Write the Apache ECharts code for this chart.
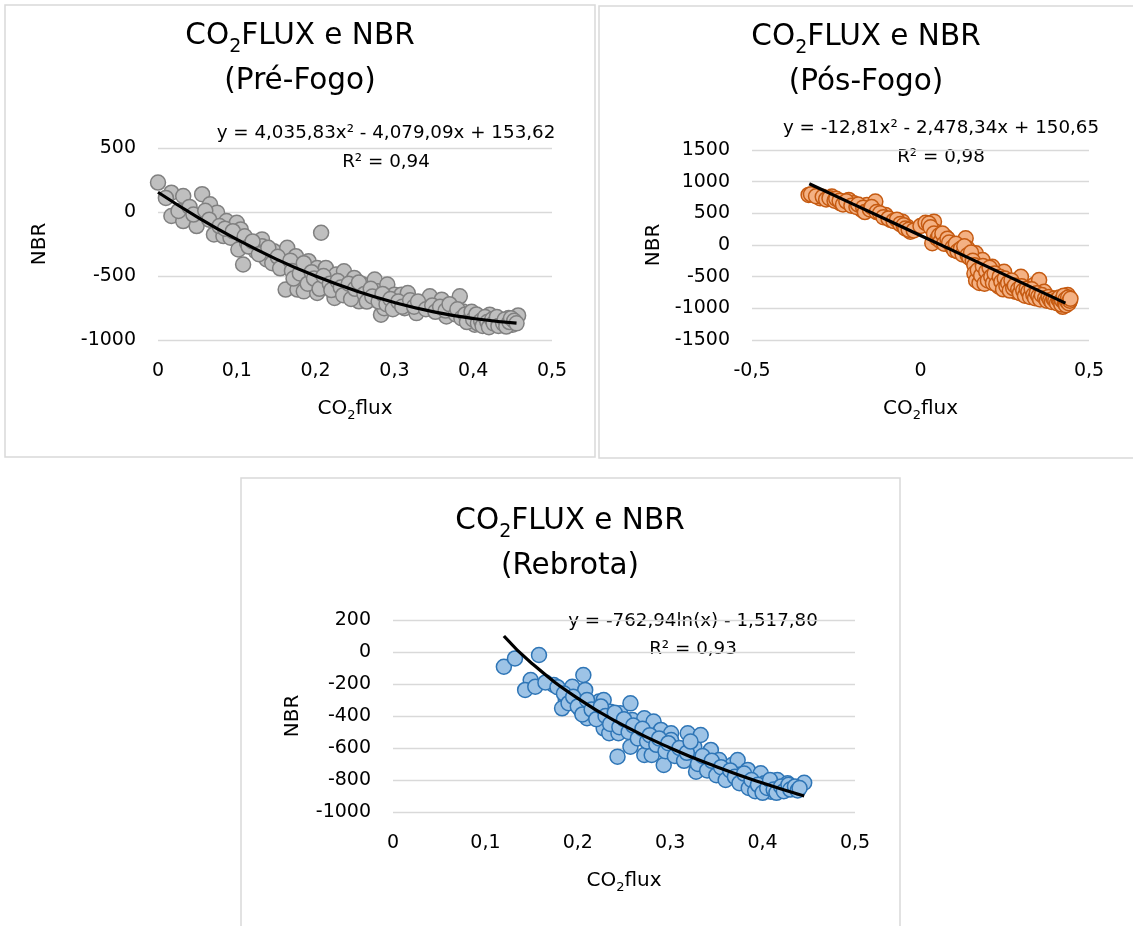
<!DOCTYPE html>
<html>
<head>
<meta charset="utf-8">
<script src="https://cdn.jsdelivr.net/npm/echarts@6/dist/echarts.min.js"></script>
<style>
  html, body { margin: 0; padding: 0; background: #fff; }
  #chart { width: 1133px; height: 926px; }
</style>
</head>
<body>
<div id="chart"></div>
<script>
// pontos: [CO2flux, NBR]
const preFogoPts = [
  [0.000,230],[0.017,151],[0.032,125],[0.056,139],[0.017,-31],[0.032,-71],[0.049,-110],[0.026,8],
  [0.066,60],[0.075,-5],[0.071,-175],[0.083,-188],[0.087,-71],[0.100,-84],[0.105,-136],[0.092,-201],
  [0.102,-293],[0.108,-410],[0.113,-241],[0.132,-214],[0.132,-267],[0.124,-306],[0.147,-306],[0.138,-371],
  [0.164,-280],[0.175,-345],[0.160,-410],[0.162,-606],[0.177,-606],[0.185,-620],[0.191,-384],[0.202,-437],
  [0.207,-162],[0.202,-633],[0.213,-437],[0.215,-541],[0.226,-489],[0.224,-672],[0.236,-463],[0.240,-620],
  [0.249,-515],[0.255,-698],[0.260,-567],[0.275,-528],[0.279,-620],[0.283,-802],[0.287,-751],[0.291,-567],
  [0.300,-646],[0.309,-646],[0.317,-633],[0.313,-751],[0.328,-790],[0.336,-724],[0.345,-659],[0.360,-685],
  [0.366,-816],[0.374,-751],[0.383,-659],[0.387,-777],[0.396,-829],[0.402,-881],[0.409,-829],[0.421,-802],
  [0.427,-881],[0.436,-855],[0.445,-829],[0.457,-808],[0.450,-881],
  [0.010,110],[0.040,40],[0.045,-20],[0.060,10],[0.065,-60],[0.078,-110],[0.085,-130],[0.095,-150],
  [0.110,-190],[0.115,-270],[0.120,-230],[0.128,-330],[0.140,-280],[0.145,-400],[0.152,-350],[0.155,-440],
  [0.168,-380],[0.170,-460],[0.172,-520],[0.180,-480],[0.185,-400],[0.190,-560],[0.195,-470],[0.198,-520],
  [0.205,-600],[0.210,-500],[0.218,-560],[0.220,-610],[0.228,-540],[0.232,-590],[0.235,-650],[0.242,-560],
  [0.245,-680],[0.250,-600],[0.255,-550],[0.262,-640],[0.265,-700],[0.270,-600],[0.272,-660],[0.280,-700],
  [0.285,-640],[0.290,-720],[0.295,-680],[0.298,-760],[0.305,-700],[0.310,-740],[0.320,-690],[0.325,-740],
  [0.330,-700],[0.340,-760],[0.348,-730],[0.352,-780],[0.358,-740],[0.365,-770],[0.370,-720],[0.378,-800],
  [0.380,-760],[0.385,-830],[0.390,-800],[0.392,-860],[0.398,-780],[0.400,-840],[0.404,-800],[0.406,-870],
  [0.410,-850],[0.412,-890],[0.415,-820],[0.418,-860],[0.420,-900],[0.424,-840],[0.426,-870],[0.430,-820],
  [0.432,-890],[0.438,-870],[0.440,-840],[0.442,-895],[0.446,-860],[0.448,-830],[0.452,-850],[0.455,-870]
];

const posFogoPts = [
  [-0.332,791],[-0.298,739],[-0.263,764],[-0.238,659],[-0.213,712],[-0.198,659],[-0.174,554],[-0.159,633],
  [-0.134,685],[-0.104,475],[-0.089,396],[-0.054,369],[-0.040,290],[-0.030,210],[0.010,316],[0.040,369],
  [0.045,210],[0.035,27],[0.074,131],[0.089,0],[0.114,0],[0.134,106],[0.139,-52],[0.164,-131],
  [0.184,-237],[0.169,-501],[0.188,-554],[0.213,-343],[0.228,-527],[0.233,-659],[0.248,-422],[0.268,-580],
  [0.283,-739],[0.298,-501],[0.318,-765],[0.337,-633],[0.352,-554],[0.367,-739],[0.397,-844],[0.422,-976],
  [0.437,-791],[0.441,-897],
  [-0.325,800],[-0.310,770],[-0.290,760],[-0.280,720],[-0.270,740],[-0.255,700],[-0.250,730],[-0.240,700],
  [-0.230,640],[-0.220,690],[-0.205,620],[-0.190,600],[-0.185,640],[-0.170,590],[-0.165,520],[-0.150,560],
  [-0.145,600],[-0.130,520],[-0.120,500],[-0.110,440],[-0.095,420],[-0.080,380],[-0.070,400],[-0.060,330],
  [-0.050,310],[-0.045,260],[-0.035,240],[-0.020,230],[0.000,300],[0.015,350],[0.025,340],[0.030,280],
  [0.040,180],[0.050,100],[0.055,150],[0.060,60],[0.065,180],[0.070,20],[0.080,100],[0.085,40],
  [0.095,-40],[0.100,-80],[0.105,20],[0.110,-100],[0.120,-60],[0.125,-150],[0.130,-20],[0.140,-160],
  [0.145,-200],[0.150,-120],[0.155,-250],[0.160,-320],[0.160,-450],[0.165,-560],[0.170,-400],[0.175,-600],
  [0.180,-480],[0.185,-330],[0.190,-610],[0.195,-420],[0.200,-560],[0.205,-360],[0.210,-500],[0.215,-600],
  [0.220,-450],[0.225,-620],[0.235,-500],[0.240,-580],[0.245,-700],[0.250,-530],[0.255,-650],[0.260,-600],
  [0.265,-720],[0.270,-560],[0.275,-680],[0.280,-640],[0.290,-700],[0.295,-760],[0.300,-650],[0.305,-720],
  [0.310,-800],[0.315,-690],[0.320,-740],[0.325,-820],[0.330,-700],[0.335,-790],[0.340,-840],[0.345,-760],
  [0.350,-810],[0.355,-860],[0.360,-790],[0.370,-840],[0.375,-880],[0.380,-820],[0.385,-870],[0.390,-900],
  [0.395,-850],[0.400,-880],[0.405,-920],[0.410,-860],[0.412,-830],[0.415,-900],[0.418,-940],[0.420,-870],
  [0.425,-800],[0.428,-920],[0.430,-860],[0.432,-950],[0.435,-890],[0.438,-830],[0.440,-920],[0.443,-880],
  [0.445,-850]
];

const rebrotaPts = [
  [0.120,-92],[0.132,-40],[0.158,-19],[0.149,-175],[0.143,-237],[0.154,-217],[0.174,-206],[0.187,-300],
  [0.183,-352],[0.194,-217],[0.206,-144],[0.208,-237],[0.203,-362],[0.210,-414],[0.223,-310],[0.228,-300],
  [0.235,-373],[0.228,-477],[0.234,-508],[0.244,-508],[0.243,-654],[0.246,-383],[0.257,-321],[0.259,-425],
  [0.261,-519],[0.257,-592],[0.272,-414],[0.272,-644],[0.282,-435],[0.280,-644],[0.290,-487],[0.293,-706],
  [0.301,-508],[0.301,-550],[0.308,-612],[0.319,-508],[0.326,-592],[0.333,-519],[0.324,-675],[0.328,-748],
  [0.344,-612],[0.346,-706],[0.353,-675],[0.358,-769],[0.367,-706],[0.373,-675],[0.384,-737],[0.378,-800],
  [0.391,-842],[0.398,-758],[0.402,-821],[0.409,-873],[0.416,-800],[0.427,-821],[0.432,-852],[0.445,-817],
  [0.165,-190],[0.178,-220],[0.185,-260],[0.190,-320],[0.195,-280],[0.200,-340],[0.205,-390],[0.210,-300],
  [0.215,-360],[0.220,-420],[0.225,-340],[0.230,-400],[0.235,-450],[0.240,-380],[0.245,-470],[0.250,-420],
  [0.255,-500],[0.260,-460],[0.265,-540],[0.270,-480],[0.275,-560],[0.278,-520],[0.285,-580],[0.288,-540],
  [0.295,-620],[0.298,-570],[0.305,-650],[0.310,-600],[0.315,-680],[0.318,-630],[0.322,-560],[0.330,-700],
  [0.335,-650],[0.340,-740],[0.345,-680],[0.350,-770],[0.355,-720],[0.360,-800],[0.365,-740],[0.370,-780],
  [0.375,-820],[0.380,-760],[0.385,-850],[0.388,-800],[0.392,-870],[0.395,-830],[0.400,-880],[0.405,-850],
  [0.408,-800],[0.412,-860],[0.415,-880],[0.420,-840],[0.423,-870],[0.428,-830],[0.430,-860],[0.435,-840],
  [0.438,-865],[0.440,-850]
];

// linhas de tendência
const preFogoTrend = [[0,154],[0.05,-40],[0.1,-214],[0.15,-368],[0.2,-501],[0.25,-614],[0.3,-707],[0.35,-780],[0.4,-832],[0.455,-868]];
const posFogoTrend = [[-0.33,967],[-0.2,646],[0,151],[0.2,-346],[0.43,-917]];
const rebrotaTrend = [[0.12,100],[0.15,-70],[0.2,-290],[0.25,-460],[0.3,-600],[0.35,-717],[0.4,-819],[0.445,-900]];

const titles = ['(Pré-Fogo)', '(Pós-Fogo)', '(Rebrota)'];
const equations = [
  'y = 4,035,83x² - 4,079,09x + 153,62',
  'y = -12,81x² - 2,478,34x + 150,65',
  'y = -762,94ln(x) - 1,517,80'
];
const r2Labels = ['R² = 0,94', 'R² = 0,98', 'R² = 0,93'];

const FONT = 'DejaVu Sans';

const chart = echarts.init(document.getElementById('chart'));

const fmt = v => String(v).replace('.', ',');

function makeX(gridIndex, min, max, interval) {
  return {
    type: 'value', gridIndex, min, max, interval,
    name: '{m|CO}{s|2}{m|flux}',
    nameLocation: 'middle',
    nameGap: 56,
    nameTextStyle: {
      rich: {
        m: { fontFamily: FONT, fontSize: 20, color: '#000', lineHeight: 26 },
        s: { fontFamily: FONT, fontSize: 13, color: '#000', lineHeight: 26, padding: [13, 0, 0, 0] }
      }
    },
    axisLine: { show: false },
    axisTick: { show: false },
    splitLine: { show: false },
    axisLabel: { fontFamily: FONT, fontSize: 19, color: '#000', margin: 22, formatter: fmt }
  };
}

function makeY(gridIndex, min, max, interval, nameGap) {
  return {
    type: 'value', gridIndex, min, max, interval,
    name: 'NBR',
    nameLocation: 'middle',
    nameGap,
    nameTextStyle: { fontFamily: FONT, fontSize: 20, color: '#000' },
    axisLine: { show: false },
    axisTick: { show: false },
    splitLine: { lineStyle: { color: '#d9d9d9', width: 1.3 } },
    axisLabel: { fontFamily: FONT, fontSize: 19, color: '#000', margin: 22, formatter: fmt }
  };
}

function scatter(idx, data, fill, border) {
  return {
    type: 'scatter', xAxisIndex: idx, yAxisIndex: idx, data,
    symbol: 'circle', symbolSize: 15,
    itemStyle: { color: fill, borderColor: border, borderWidth: 1.5, opacity: 1 },
    silent: true, z: 2
  };
}

function trend(idx, data) {
  return {
    type: 'line', xAxisIndex: idx, yAxisIndex: idx, data,
    smooth: true, showSymbol: false, symbol: 'none',
    lineStyle: { color: '#000', width: 3.2 },
    silent: true, z: 3
  };
}

function titleText(x, y, sub) {
  return {
    type: 'text', x, y,
    style: {
      text: '{t|CO}{s|2}{t|FLUX e NBR}\n{t|' + sub + '}',
      align: 'center', verticalAlign: 'middle',
      rich: {
        t: { fontFamily: FONT, fontSize: 29.5, lineHeight: 45, fill: '#000', color: '#000' },
        s: { fontFamily: FONT, fontSize: 19, lineHeight: 45, padding: [22, 0, 0, 0], fill: '#000', color: '#000' }
      }
    }
  };
}

function plainText(x, y, text) {
  return {
    type: 'text', x, y,
    style: { text, fontFamily: FONT, fontSize: 18.3, fill: '#000', align: 'center', verticalAlign: 'middle' }
  };
}

function frame(x, y, w, h) {
  return {
    type: 'rect', shape: { x, y, width: w, height: h },
    style: { fill: 'none', stroke: '#d9d9d9', lineWidth: 1.5 }, z: -1
  };
}

chart.setOption({
  animation: false,
  backgroundColor: '#fff',
  grid: [
    { left: 158, top: 148, width: 394, height: 192 },
    { left: 752, top: 150, width: 337, height: 190 },
    { left: 393, top: 620, width: 462, height: 192 }
  ],
  xAxis: [
    makeX(0, 0, 0.5, 0.1),
    makeX(1, -0.5, 0.5, 0.5),
    makeX(2, 0, 0.5, 0.1)
  ],
  yAxis: [
    makeY(0, -1000, 500, 500, 108),
    makeY(1, -1500, 1500, 500, 88),
    makeY(2, -1000, 200, 200, 90)
  ],
  series: [
    scatter(0, preFogoPts, '#bfbfbf', '#808080'),
    trend(0, preFogoTrend),
    scatter(1, posFogoPts, '#f4b183', '#c55a11'),
    trend(1, posFogoTrend),
    scatter(2, rebrotaPts, '#9dc3e6', '#2e75b6'),
    trend(2, rebrotaTrend)
  ],
  graphic: [
    frame(5, 5, 590, 452),
    frame(599, 6, 540, 452),
    frame(241, 478, 659, 460),
    titleText(300, 59, titles[0]),
    titleText(866, 60, titles[1]),
    titleText(570, 544, titles[2]),
    plainText(386, 133, equations[0]),
    plainText(386, 162, r2Labels[0]),
    plainText(941, 128, equations[1]),
    plainText(941, 157, r2Labels[1]),
    plainText(693, 621, equations[2]),
    plainText(693, 649, r2Labels[2])
  ]
});

window.addEventListener('resize', () => chart.resize());
</script>
</body>
</html>
